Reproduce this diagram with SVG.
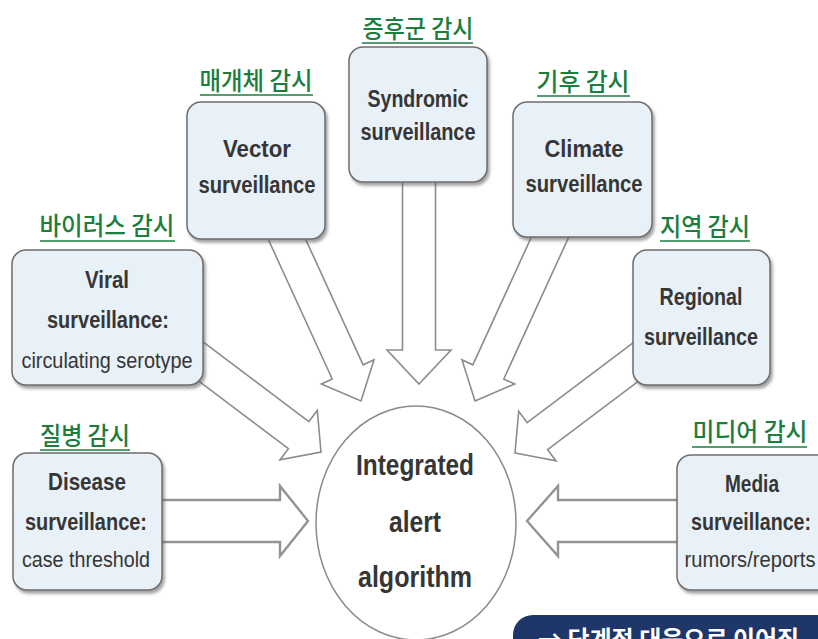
<svg xmlns="http://www.w3.org/2000/svg" width="818" height="639" viewBox="0 0 818 639">
  <defs>
    <filter id="shadow" x="-10%" y="-10%" width="130%" height="130%">
      <feDropShadow dx="2" dy="3" stdDeviation="1.8" flood-color="#555" flood-opacity="0.55"/>
    </filter>
    <style>
      .box { fill: #e8f0f8; stroke: #6e6e6e; stroke-width: 1.5; filter: url(#shadow); }
      .arrow { fill: #ffffff; stroke: #8c8c8c; stroke-width: 1.6; stroke-linejoin: miter; }
      .arrow.thick { stroke-width: 2.4; stroke: #939393; }
      .hub { fill: #ffffff; stroke: #8a8a8a; stroke-width: 1.5; }
      .t { font-family: "Liberation Sans", Arial, sans-serif; font-size: 23px; font-weight: bold; fill: #363636; text-anchor: middle; }
      .r { font-family: "Liberation Sans", Arial, sans-serif; font-size: 22px; fill: #363636; text-anchor: middle; }
      .big { font-family: "Liberation Sans", Arial, sans-serif; font-size: 29px; font-weight: bold; fill: #363636; text-anchor: middle; }
      .ko { font-family: "Noto Sans CJK KR", "Noto Sans", sans-serif; font-size: 25px; font-weight: 500; fill: #1b7d3e; text-anchor: middle; }
      .ul { stroke: #1b7d3e; stroke-width: 1.6; }
      .banner { fill: #1e3668; }
      .bt { font-family: "Noto Sans CJK KR", "Noto Sans", sans-serif; font-size: 24px; font-weight: bold; fill: #ffffff; }
    </style>
  </defs>

  <rect width="818" height="639" fill="#ffffff"/>

  <!-- connectors: hollow block arrows, tip at the local origin, pointing along +x -->
  <g id="connectors">
    <!-- Disease -> hub -->
    <polygon class="arrow thick" transform="translate(308,521) rotate(0)" points="0,0 -28,-35 -28,-21 -160,-21 -160,21 -28,21 -28,35"/>
    <!-- Media -> hub -->
    <polygon class="arrow thick" transform="translate(527,521) rotate(180)" points="0,0 -31,-35 -31,-21 -165,-21 -165,21 -31,21 -31,35"/>
    <!-- Syndromic -> hub -->
    <polygon class="arrow" transform="translate(419,384) rotate(90)" points="0,0 -34,-32 -34,-16.5 -214,-16.5 -214,16.5 -34,16.5 -34,32"/>
    <!-- Vector -> hub -->
    <polygon class="arrow" transform="translate(361,401) rotate(65.4)" points="0,0 -32,-29 -32,-17 -195,-17 -195,17 -32,17 -32,29"/>
    <!-- Climate -> hub -->
    <polygon class="arrow" transform="translate(475,401) rotate(114.6)" points="0,0 -32,-29 -32,-17 -195,-17 -195,17 -32,17 -32,29"/>
    <!-- Regional -> hub -->
    <polygon class="arrow" transform="translate(515,453) rotate(143)" points="0,0 -28,-31 -28,-17 -178,-17 -178,17 -28,17 -28,31"/>
    <!-- Viral -> hub -->
    <polygon class="arrow" transform="translate(321,452) rotate(37)" points="0,0 -28,-31 -28,-17 -178,-17 -178,17 -28,17 -28,31"/>
  </g>

  <!-- central hub -->
  <g id="hub">
    <ellipse class="hub" cx="416" cy="523" rx="100" ry="117"/>
    <text class="big" x="415" y="475" textLength="118" lengthAdjust="spacingAndGlyphs">Integrated</text>
    <text class="big" x="415" y="532" textLength="52" lengthAdjust="spacingAndGlyphs">alert</text>
    <text class="big" x="415" y="587" textLength="114" lengthAdjust="spacingAndGlyphs">algorithm</text>
  </g>

  <g id="syndromic">
    <text class="ko" x="418" y="38" textLength="111" lengthAdjust="spacingAndGlyphs">증후군 감시</text>
    <line class="ul" x1="362" y1="43" x2="473" y2="43"/>
    <rect class="box" x="349" y="47" width="138" height="135" rx="14"/>
    <text class="t" x="418" y="107" textLength="101" lengthAdjust="spacingAndGlyphs">Syndromic</text>
    <text class="t" x="418" y="140" textLength="115" lengthAdjust="spacingAndGlyphs">surveillance</text>
  </g>

  <g id="vector">
    <text class="ko" x="256" y="90" textLength="113" lengthAdjust="spacingAndGlyphs">매개체 감시</text>
    <line class="ul" x1="200" y1="95" x2="313" y2="95"/>
    <rect class="box" x="187" y="102" width="138" height="137" rx="14"/>
    <text class="t" x="257" y="157" textLength="68" lengthAdjust="spacingAndGlyphs">Vector</text>
    <text class="t" x="257" y="193" textLength="117" lengthAdjust="spacingAndGlyphs">surveillance</text>
  </g>

  <g id="climate">
    <text class="ko" x="583" y="91" textLength="93" lengthAdjust="spacingAndGlyphs">기후 감시</text>
    <line class="ul" x1="537" y1="96" x2="630" y2="96"/>
    <rect class="box" x="513" y="102" width="139" height="135" rx="14"/>
    <text class="t" x="584" y="157" textLength="79" lengthAdjust="spacingAndGlyphs">Climate</text>
    <text class="t" x="584" y="192" textLength="117" lengthAdjust="spacingAndGlyphs">surveillance</text>
  </g>

  <g id="viral">
    <text class="ko" x="107" y="235" textLength="135" lengthAdjust="spacingAndGlyphs">바이러스 감시</text>
    <line class="ul" x1="40" y1="241" x2="175" y2="241"/>
    <rect class="box" x="12" y="250" width="191" height="135" rx="14"/>
    <text class="t" x="107" y="288" textLength="44" lengthAdjust="spacingAndGlyphs">Viral</text>
    <text class="t" x="108" y="328" textLength="122" lengthAdjust="spacingAndGlyphs">surveillance:</text>
    <text class="r" x="107" y="368" textLength="171" lengthAdjust="spacingAndGlyphs">circulating serotype</text>
  </g>

  <g id="regional">
    <text class="ko" x="705" y="236" textLength="90" lengthAdjust="spacingAndGlyphs">지역 감시</text>
    <line class="ul" x1="660" y1="241" x2="750" y2="241"/>
    <rect class="box" x="633" y="250" width="137" height="135" rx="14"/>
    <text class="t" x="701" y="305" textLength="83" lengthAdjust="spacingAndGlyphs">Regional</text>
    <text class="t" x="701" y="345" textLength="114" lengthAdjust="spacingAndGlyphs">surveillance</text>
  </g>

  <g id="disease">
    <text class="ko" x="85" y="445" textLength="90" lengthAdjust="spacingAndGlyphs">질병 감시</text>
    <line class="ul" x1="40" y1="450" x2="130" y2="450"/>
    <rect class="box" x="13" y="453" width="149" height="137" rx="14"/>
    <text class="t" x="87" y="490" textLength="78" lengthAdjust="spacingAndGlyphs">Disease</text>
    <text class="t" x="86" y="530" textLength="122" lengthAdjust="spacingAndGlyphs">surveillance:</text>
    <text class="r" x="86" y="567" textLength="128" lengthAdjust="spacingAndGlyphs">case threshold</text>
  </g>

  <g id="media">
    <text class="ko" x="750" y="441" textLength="115" lengthAdjust="spacingAndGlyphs">미디어 감시</text>
    <line class="ul" x1="692" y1="447" x2="807" y2="447"/>
    <rect class="box" x="677" y="455" width="160" height="135" rx="14"/>
    <text class="t" x="752" y="492" textLength="54" lengthAdjust="spacingAndGlyphs">Media</text>
    <text class="t" x="751" y="530" textLength="120" lengthAdjust="spacingAndGlyphs">surveillance:</text>
    <text class="r" x="750" y="567" textLength="131" lengthAdjust="spacingAndGlyphs">rumors/reports</text>
  </g>

  <g id="banner">
    <rect class="banner" x="513" y="615" width="340" height="50" rx="20"/>
    <text class="bt" x="538" y="648">→ 단계적 대응으로 이어짐</text>
  </g>
</svg>
